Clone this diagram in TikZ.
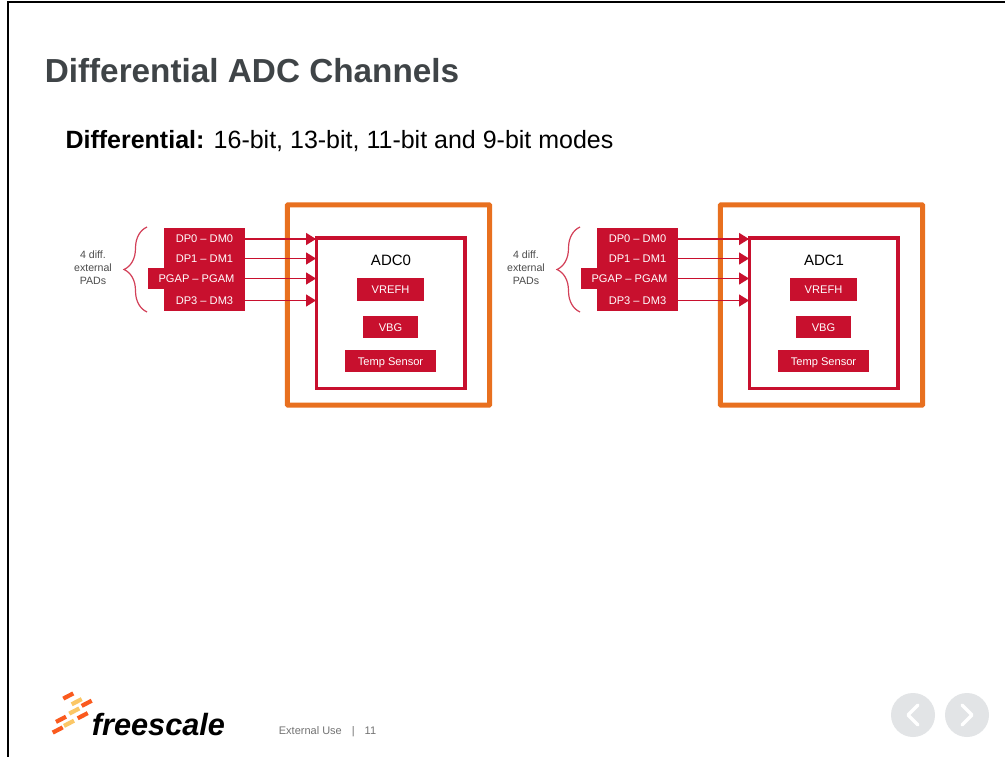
\documentclass[tikz,border=0pt]{standalone}
\usepackage{fontspec}
\setmainfont{Liberation Sans}
\usetikzlibrary{arrows.meta,decorations.pathreplacing}
\definecolor{fsred}{HTML}{C8102E}
\definecolor{fsorange}{HTML}{E8701F}
\definecolor{fsgrey}{HTML}{3F4447}
\definecolor{fsbutton}{HTML}{E2E4E6}
\definecolor{logoorange}{HTML}{FA5A1E}
\definecolor{logoyellow}{HTML}{FBC766}
\tikzset{
  redbox/.style={fill=fsred, text=white, inner sep=0pt, text height=8pt, text depth=0pt, font=\fontsize{11.1}{11}\selectfont},
  padlabel/.style={font=\fontsize{10.6}{10.6}\selectfont\color{black!70}},
  petal/.style={line width=4.2pt},
  wire/.style={fsred, line width=1.5pt, -{Triangle[length=10pt,width=12pt]}}
}
\begin{document}
\begin{tikzpicture}[x=1pt,y=-1pt]
\useasboundingbox (0,0) rectangle (1005,757);
\fill[white] (0,0) rectangle (1005,757);
\coordinate (frametl) at (8,2);
\coordinate (frametr) at (1005,2);
\coordinate (framebl) at (8,757);
\draw[line width=1.6pt] (framebl) -- (frametl) -- (frametr);
\node (title) at (252,71) [fsgrey, font=\fontsize{33.3}{34}\selectfont\bfseries] {Differential ADC Channels};
\node (subtitle) at (339.5,141) [font=\fontsize{25}{26}\selectfont] {\textbf{Differential:} 16-bit, 13-bit, 11-bit and 9-bit modes};
\foreach \i/\dx in {0/0,1/433}{
  \begin{scope}[xshift=\dx pt]
  \draw[fsorange, line width=5pt, rounded corners=0.5pt] (287.3,205) rectangle (489.5,405);
  \node (pads\i) at (93,267.5) [padlabel, align=center] {4 diff.\\[2.6pt]external\\[2.6pt]PADs};
  \fill[fsred] (164,228) rectangle (245,311);
  \fill[fsred] (148,268) rectangle (164,289);
  \coordinate (in0\i) at (316,239);
  \coordinate (in1\i) at (316,258.5);
  \coordinate (in2\i) at (316,278.5);
  \coordinate (in3\i) at (316,300.5);
  \node (dp0\i) at (204.5,239) [redbox, minimum width=81pt] {DP0 -- DM0};
  \node (dp1\i) at (204.5,258.5) [redbox, minimum width=81pt] {DP1 -- DM1};
  \node (pga\i) at (196.5,278.5) [redbox, minimum width=97pt] {PGAP -- PGAM};
  \node (dp3\i) at (204.5,300.5) [redbox, minimum width=81pt] {DP3 -- DM3};
  \draw[wire] (dp0\i.east) -- (in0\i);
  \draw[wire] (dp1\i.east) -- (in1\i);
  \draw[wire] (pga\i.east) -- (in2\i);
  \draw[wire] (dp3\i.east) -- (in3\i);
  \draw[fsred, line width=3.2pt] (316.5,238) rectangle (465,388.5);
  \node (adc\i) at (391,260) [font=\fontsize{15}{15}\selectfont] {ADC\i};
  \node (vrefh\i) at (390.5,289.5) [redbox, minimum width=67pt, minimum height=22.5pt] {VREFH};
  \node (vbg\i) at (390.5,327) [redbox, minimum width=55pt, minimum height=22pt] {VBG};
  \node (temp\i) at (390.5,361) [redbox, minimum width=91pt, minimum height=21.5pt] {Temp Sensor};
  \draw[fsred!80, line width=1.2pt, decorate, decoration={brace, amplitude=23pt, aspect=0.5}] (147,312) -- (147,227);
  \end{scope}
}
% logo
\foreach \px/\py/\col in {68.3/696/logoorange,86.7/703.3/logoorange,82.7/715.7/logoorange,61/719.3/logoorange,57.7/730/logoorange,76.7/701.7/logoyellow,74.3/711/logoyellow,69/723.3/logoyellow}{
  \draw[petal, color=\col] (\px-5,\py+2.6) -- (\px+5,\py-2.6);
}
\node (logo) at (158.5,725) [font=\fontsize{30.7}{30}\selectfont\bfseries\itshape] {freescale};
\node (footer) at (327.5,732) [black!55, font=\fontsize{11}{11}\selectfont] {External Use\hspace{10pt}|\hspace{10pt}11};
% buttons
\node (back) at (913,715) [circle, fill=fsbutton, minimum size=44pt, inner sep=0pt] {};
\node (next) at (967,715) [circle, fill=fsbutton, minimum size=44pt, inner sep=0pt] {};
\draw[white, line width=3.5pt, line cap=round, line join=round] ([shift={(5,-10)}]back.center) -- ([shift={(-5,0)}]back.center) -- ([shift={(5,10)}]back.center);
\draw[white, line width=3.5pt, line cap=round, line join=round] ([shift={(-5,-10)}]next.center) -- ([shift={(5,0)}]next.center) -- ([shift={(-5,10)}]next.center);
\end{tikzpicture}
\end{document}
